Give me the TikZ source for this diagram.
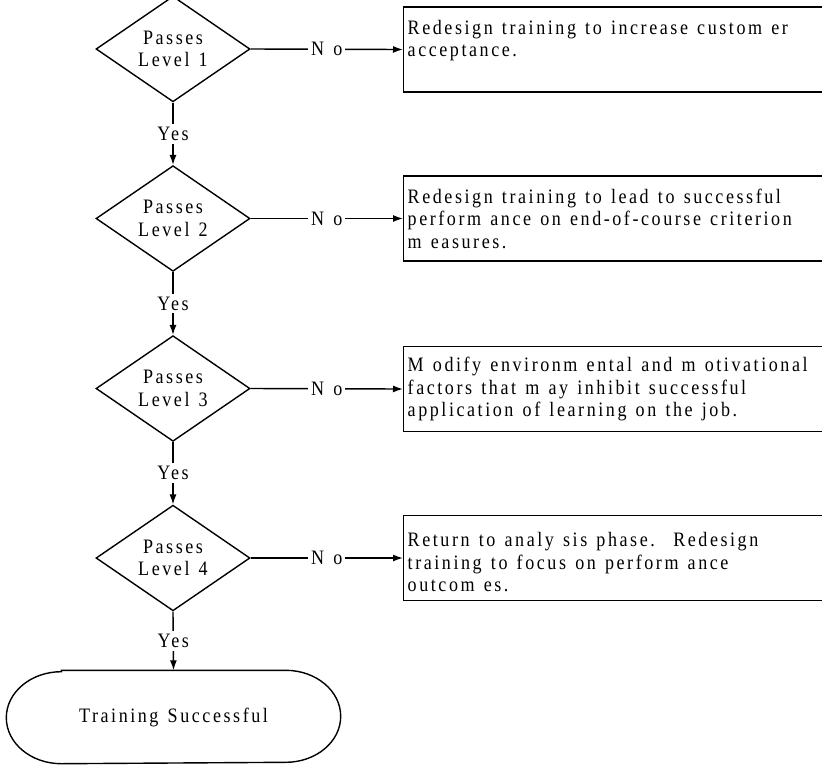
\documentclass[tikz,border=0pt]{standalone}
\usepackage{fontspec}
\setmainfont{Liberation Serif}[FakeStretch=0.88, LetterSpace=12.5, WordSpace=1.3]
\usetikzlibrary{shapes.geometric,arrows.meta}
\newcommand\txtfont{\fontsize{20.5}{22.5}\selectfont}
\newcommand\normsp{\spaceskip=\fontdimen2\font\relax\xspaceskip=\fontdimen2\font\relax}
\begin{document}
\begin{tikzpicture}[x=1pt,y=-1pt, line width=1.4pt,
  decide/.style={diamond, draw, minimum width=154pt, minimum height=84pt, inner sep=0pt, align=center, font=\txtfont},
  actbox/.style={draw, anchor=west, text width=440pt, minimum height=85pt, inner xsep=4pt, inner ysep=0pt, align=left, font=\txtfont},
  lbl/.style={fill=white, inner sep=3pt, font=\txtfont},
  arr/.style={-{Latex[length=10pt,width=7pt]}},
  term/.style={minimum width=333pt, minimum height=92pt, font=\txtfont}]
\useasboundingbox (0,0) rectangle (822,764);
\clip (0,0) rectangle (822,764);
\fill[white] (0,0) rectangle (822,764);

\node[decide] (d1) at (173,49) {Passes\\Level 1};
\node[decide] (d2) at (173,218.5) {Passes\\Level 2};
\node[decide] (d3) at (173,388.5) {Passes\\Level 3};
\node[decide] (d4) at (173,558) {Passes\\Level 4};

\node[actbox] (b1) at (403,49.5) {\normsp Redesign training to increase custom er\\acceptance.\\\mbox{}};
\node[actbox] (b2) at (403,218.5) {\normsp Redesign training to lead to successful\\perform ance on end-of-course criterion\\m easures.};
\node[actbox] (b3) at (403,389) {\normsp M odify environm ental and m otivational\\factors that m ay inhibit successful\\application of learning on the job.};
\node[actbox] (b4) at (403,558) {\normsp\mbox{}\\Return to analy sis phase.\ \ Redesign\\training to focus on perform ance\\outcom es.};

\node[term] (end) at (173.5,717) {Training Successful};
\draw ([xshift=55pt]end.north west) -- ([xshift=-55pt]end.north east)
  arc[start angle=90, end angle=-90, x radius=55pt, y radius=46pt]
  -- ([xshift=55pt]end.south west)
  arc[start angle=270, end angle=90, x radius=55pt, y radius=46pt] -- cycle;

\foreach \i in {1,2,3,4}{
  \draw[arr] (d\i.east) -- node[lbl] {N o} (b\i.west);
}
\draw[arr] (d1.south) -- node[lbl] {Yes} (d2.north);
\draw[arr] (d2.south) -- node[lbl] {Yes} (d3.north);
\draw[arr] (d3.south) -- node[lbl] {Yes} (d4.north);
\draw[arr] (d4.south) -- node[lbl] {Yes} (end.north);
\end{tikzpicture}
\end{document}
